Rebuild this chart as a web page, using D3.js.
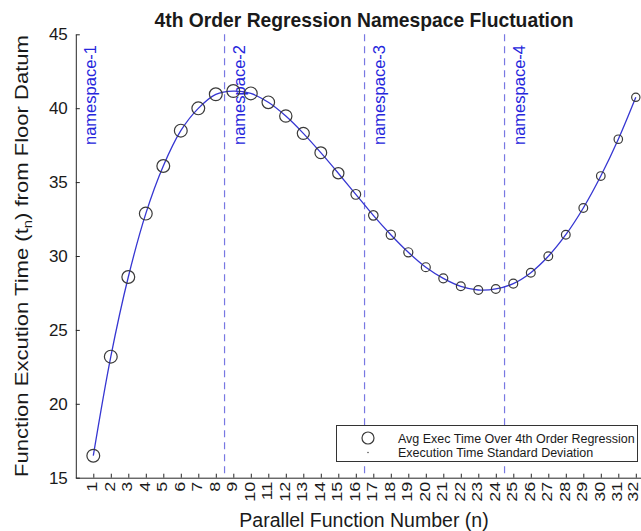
<!DOCTYPE html>
<html>
<head>
<meta charset="utf-8">
<script src="https://cdn.jsdelivr.net/npm/d3@7"></script>
<style>
  html, body { margin: 0; padding: 0; background: #fff; }
  svg { display: block; font-family: "Liberation Sans", Arial, Helvetica, sans-serif; }
</style>
</head>
<body>
<svg id="chart" width="641" height="531"></svg>
<script>
// Parallel function index (x) and average execution time after 4th order regression (y)
const functionNumbers = d3.range(1, 33);
const avgExecTime = [
  16.49, 23.19, 28.58, 32.87, 36.09, 38.48, 39.99, 40.94,
  41.16, 41.00, 40.40, 39.47, 38.30, 36.99, 35.60, 34.17,
  32.75, 31.44, 30.25, 29.24, 28.49, 27.95, 27.70, 27.77,
  28.13, 28.87, 29.98, 31.44, 33.25, 35.41, 37.90, 40.74
];
// Spread of execution time per function (drives marker size)
const execStdDev = [
  1.00, 1.00, 1.00, 1.00, 1.00, 1.00, 1.00, 1.00,
  1.00, 1.00, 0.98, 0.96, 0.94, 0.92, 0.88, 0.76,
  0.74, 0.72, 0.71, 0.70, 0.70, 0.69, 0.69, 0.69,
  0.69, 0.69, 0.68, 0.68, 0.68, 0.67, 0.66, 0.65
];
// Namespace boundaries along the function axis
const namespaceNames = ["namespace-1", "namespace-2", "namespace-3", "namespace-4"];
const namespaceStarts = [0, 8.5, 16.5, 24.5];
const yTicks = [15, 20, 25, 30, 35, 40, 45];

const titleText = "4th Order Regression Namespace Fluctuation";
const xLabel = "Parallel Function Number (n)";
const legendLabels = ["Avg Exec Time Over 4th Order Regression", "Execution Time Standard Deviation"];

const svg = d3.select("#chart");
const axisColor = "#262626";
const lineBlue = "#3636d2";
const textBlue = "#2626dc";
const dashBlue = "#7878e2";

const x = d3.scaleLinear().domain([0, 33]).range([75.8, 653.3]);
const y = d3.scaleLinear().domain([15, 45]).range([477.7, 34.3]);
const r = d3.scaleLinear().domain([0, 1]).range([0, 6.4]);

const points = functionNumbers.map((n, i) => ({ n, v: avgExecTime[i], sd: execStdDev[i] }));

// namespace separators (the first namespace starts on the y axis itself)
svg.append("g").selectAll("line")
  .data(namespaceStarts.filter(d => d > 0))
  .join("line")
  .attr("x1", d => x(d)).attr("x2", d => x(d))
  .attr("y1", y(45)).attr("y2", y(15))
  .attr("stroke", dashBlue).attr("stroke-width", 1.2)
  .attr("stroke-dasharray", "7,5");

// namespace labels
svg.append("g").selectAll("text")
  .data(namespaceNames)
  .join("text")
  .attr("transform", (d, i) => `translate(${x(namespaceStarts[i]) + 20.5},45) rotate(-90)`)
  .attr("text-anchor", "end")
  .attr("fill", textBlue)
  .attr("font-size", "16.5px")
  .text(d => d);

// regression curve
svg.append("path")
  .datum(points)
  .attr("fill", "none")
  .attr("stroke", lineBlue)
  .attr("stroke-width", 1.3)
  .attr("d", d3.line().x(d => x(d.n)).y(d => y(d.v)).curve(d3.curveCatmullRom.alpha(0.5)));

// average markers
svg.append("g").selectAll("circle")
  .data(points)
  .join("circle")
  .attr("cx", d => x(d.n)).attr("cy", d => y(d.v))
  .attr("r", d => r(d.sd))
  .attr("fill", "none")
  .attr("stroke", "#3a3a3a")
  .attr("stroke-width", 1.2);

// y axis
const yAxis = svg.append("g")
  .attr("transform", `translate(${x(0)},0)`)
  .call(d3.axisLeft(y).tickValues(yTicks).tickSizeInner(-4).tickSizeOuter(0).tickPadding(8));
yAxis.select(".domain").attr("stroke", axisColor);
yAxis.selectAll(".tick line").attr("stroke", axisColor);
yAxis.selectAll(".tick text")
  .attr("font-size", "17px").attr("fill", "#1a1a1a")
  .attr("font-family", "Liberation Sans, Arial, sans-serif");

// x axis (vertical tick labels; the last one is nudged to stay inside the frame)
const lastN = functionNumbers[functionNumbers.length - 1];
const xAxis = svg.append("g")
  .attr("transform", `translate(0,${y(15)})`)
  .call(d3.axisBottom(x).tickValues(functionNumbers).tickFormat(d3.format("d")).tickSizeInner(-4).tickSizeOuter(0));
xAxis.select(".domain").attr("stroke", axisColor);
xAxis.selectAll(".tick line").attr("stroke", axisColor);
xAxis.selectAll(".tick text")
  .attr("font-size", "15px").attr("fill", "#1a1a1a")
  .attr("font-family", "Liberation Sans, Arial, sans-serif")
  .attr("text-anchor", "end")
  .attr("dy", null).attr("y", null)
  .attr("transform", d => `translate(${d === lastN ? 1.2 : 3.5},4) rotate(-90) scale(1.2,1)`);

// title
svg.append("text")
  .attr("x", 364).attr("y", 27)
  .attr("text-anchor", "middle")
  .attr("font-weight", "bold").attr("font-size", "19.3px")
  .attr("fill", "#1a1a1a")
  .text(titleText);

// x label
svg.append("text")
  .attr("x", 364).attr("y", 527)
  .attr("text-anchor", "middle")
  .attr("font-size", "19.5px").attr("fill", "#1a1a1a")
  .text(xLabel);

// y label with subscript
const yl = svg.append("text")
  .attr("transform", `translate(28,${(y(15) + y(45)) / 2}) rotate(-90)`)
  .attr("text-anchor", "middle")
  .attr("font-size", "18px").attr("fill", "#1a1a1a")
  .attr("textLength", 442).attr("lengthAdjust", "spacingAndGlyphs");
yl.append("tspan").text("Function Excution Time (t");
yl.append("tspan").attr("font-size", "12px").attr("dy", 4).text("n");
yl.append("tspan").attr("dy", -4).text(") from Floor Datum");

// legend
const lg = svg.append("g");
lg.append("rect")
  .attr("x", 336.5).attr("y", 425.5).attr("width", 301).attr("height", 36)
  .attr("fill", "#fff").attr("stroke", "#333").attr("stroke-width", 1);
lg.append("circle")
  .attr("cx", 368).attr("cy", 438).attr("r", 6)
  .attr("fill", "none").attr("stroke", "#3a3a3a").attr("stroke-width", 1.2);
lg.append("circle")
  .attr("cx", 368).attr("cy", 452.5).attr("r", 0.8)
  .attr("fill", "#555");
lg.selectAll("text.lab")
  .data(legendLabels)
  .join("text")
  .attr("class", "lab")
  .attr("x", 398).attr("y", (d, i) => 442.5 + i * 14.7)
  .attr("font-size", "12.5px").attr("fill", "#1a1a1a")
  .text(d => d);
</script>
</body>
</html>
